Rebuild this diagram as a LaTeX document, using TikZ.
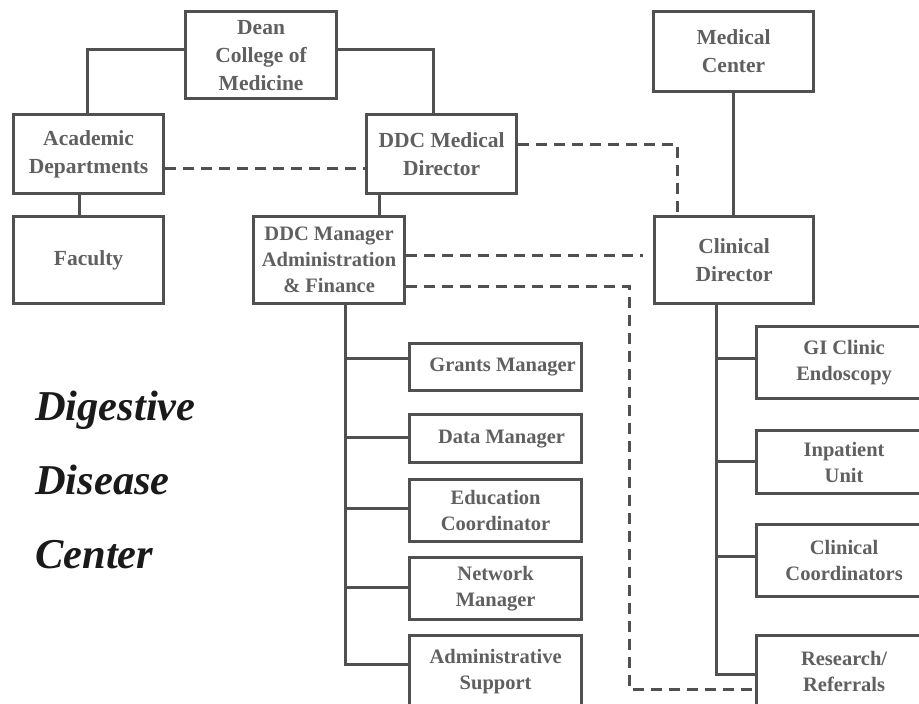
\documentclass[tikz,border=0pt]{standalone}
\usepackage{fontspec}
\setmainfont{Liberation Serif}
\definecolor{lc}{HTML}{505050}
\definecolor{tc}{HTML}{606060}
\definecolor{bigc}{HTML}{1A1A1A}
\begin{document}
\begin{tikzpicture}[x=1pt,y=-1pt,
  box/.style={draw=lc, line width=3.2pt, rectangle, inner sep=0pt, align=center,
    font=\bfseries\fontsize{21.5}{28}\selectfont, text=tc, anchor=north west},
  subbox/.style={box, font=\bfseries\fontsize{20.5}{26}\selectfont},
  conn/.style={draw=lc, line width=3pt},
  dashconn/.style={draw=lc, line width=3pt, dash pattern=on 11pt off 7pt},
  bigtext/.style={anchor=base west, inner sep=0pt, text=bigc,
    font=\bfseries\itshape\fontsize{42.5}{48}\selectfont}]
\useasboundingbox (0,0) rectangle (919,704);
\clip (0,0) rectangle (919,704);
\fill[white] (0,0) rectangle (919,704);

% top level boxes
\node[box, minimum width=151pt, minimum height=87pt] (dean) at (184,10) {Dean\\College of\\Medicine};
\node[box, minimum width=150pt, minimum height=79pt] (acad) at (12,113) {Academic\\Departments};
\node[box, minimum width=150pt, minimum height=87pt] (fac) at (12,215) {Faculty};
\node[box, minimum width=150pt, minimum height=79pt] (ddcmed) at (365,113) {DDC Medical\\Director};
\node[subbox, minimum width=151pt, minimum height=87pt] (ddcman) at (252,215) {DDC Manager\\Administration\\\& Finance};
\node[box, minimum width=160pt, minimum height=80pt] (medc) at (652,10) {Medical\\Center};
\node[box, minimum width=159pt, minimum height=87pt] (clin) at (653,215) {Clinical\\Director};

% administration sub-boxes
\node[subbox, minimum width=172pt, minimum height=47pt] (grants) at (408,342) {\hspace*{14pt}Grants Manager};
\node[subbox, minimum width=172pt, minimum height=48pt] (data) at (408,413) {\hspace*{12pt}Data Manager};
\node[subbox, minimum width=172pt, minimum height=62pt] (edu) at (408,478) {Education\\Coordinator};
\node[subbox, minimum width=172pt, minimum height=62pt] (net) at (408,556) {Network\\Manager};
\node[subbox, minimum width=172pt, minimum height=72pt] (admin) at (408,634) {Administrative\\Support};

% clinical sub-boxes
\node[subbox, minimum width=175pt, minimum height=72pt] (gi) at (755,325) {GI Clinic\\Endoscopy};
\node[subbox, minimum width=175pt, minimum height=63pt] (inp) at (755,429) {Inpatient\\Unit};
\node[subbox, minimum width=175pt, minimum height=72pt] (cc) at (755,523) {Clinical\\Coordinators};
\node[subbox, minimum width=175pt, minimum height=72pt] (res) at (755,634) {Research/\\Referrals};

% big title text
\node[bigtext] (t1) at (35,420) {Digestive};
\node[bigtext] (t2) at (35,494) {Disease};
\node[bigtext] (t3) at (35,568) {Center};

% helper coordinates
\coordinate (yd) at (0,49);
\coordinate (xl) at (87,0);
\coordinate (xr) at (433,0);
\coordinate (xf) at (79,0);
\coordinate (xm) at (379,0);
\coordinate (ya) at (0,168);
\coordinate (k1) at (677,144);
\coordinate (y2) at (0,255);
\coordinate (x2) at (643,0);
\coordinate (k3) at (629,286);
\coordinate (k4) at (629,689);
\coordinate (lt) at (345,664);
\coordinate (rt) at (716,674);

% solid connectors
\draw[conn] (dean.west |- yd) -| (acad.north -| xl);
\draw[conn] (dean.east |- yd) -| (ddcmed.north -| xr);
\draw[conn] (acad.south -| xf) -- (fac.north -| xf);
\draw[conn] (ddcmed.south -| xm) -- (ddcman.north -| xm);
\draw[conn] (medc.south) -- (medc.south |- clin.north);

% left trunk
\draw[conn] (ddcman.south -| lt) -- (lt) -- (admin.west |- lt);
\coordinate (g1) at (0,358);
\coordinate (g2) at (0,437);
\coordinate (g3) at (0,508);
\coordinate (g4) at (0,587);
\draw[conn] (lt |- g1) -- (grants.west |- g1);
\draw[conn] (lt |- g2) -- (data.west |- g2);
\draw[conn] (lt |- g3) -- (edu.west |- g3);
\draw[conn] (lt |- g4) -- (net.west |- g4);

% right trunk
\draw[conn] (clin.south -| rt) -- (rt) -- (res.west |- rt);
\coordinate (h1) at (0,358);
\coordinate (h2) at (0,461);
\coordinate (h3) at (0,556);
\draw[conn] (rt |- h1) -- (gi.west |- h1);
\draw[conn] (rt |- h2) -- (inp.west |- h2);
\draw[conn] (rt |- h3) -- (cc.west |- h3);

% dashed connectors
\draw[dashconn] (acad.east |- ya) -- (ddcmed.west |- ya);
\draw[dashconn] (ddcmed.east |- k1) -- (k1) -- (clin.north -| k1);
\draw[dashconn] (ddcman.east |- y2) -- (x2 |- y2);
\draw[dashconn] (ddcman.east |- k3) -- (k3) -- (k4) -- (res.west |- k4);
\end{tikzpicture}
\end{document}
